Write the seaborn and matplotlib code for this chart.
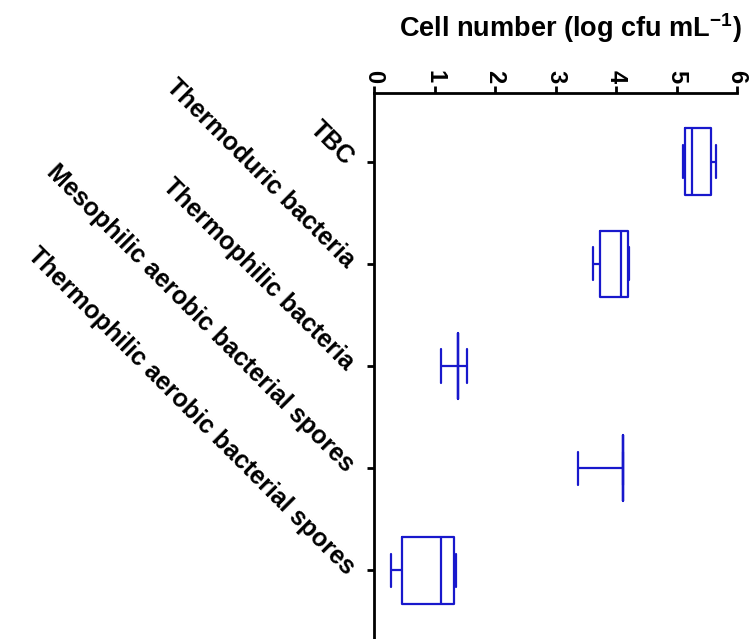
import matplotlib
matplotlib.use("Agg")
import matplotlib.pyplot as plt
import seaborn as sns
import pandas as pd

categories = ["TBC", "Thermoduric bacteria", "Thermophilic bacteria",
              "Mesophilic aerobic bacterial spores",
              "Thermophilic aerobic bacterial spores"]
# five-number summaries: min, Q1, median, Q3, max
tbc = [5.11, 5.14, 5.26, 5.57, 5.66]
thermoduric = [3.62, 3.74, 4.09, 4.20, 4.21]
thermophilic = [1.10, 1.39, 1.39, 1.39, 1.53]
mesophilic_spores = [3.38, 4.11, 4.11, 4.11, 4.11]
thermophilic_spores = [0.28, 0.47, 1.11, 1.32, 1.35]
x_ticks = [0, 1, 2, 3, 4, 5, 6]

series = [tbc, thermoduric, thermophilic, mesophilic_spores, thermophilic_spores]
rows = []
for cat, vals in zip(categories, series):
    for v in vals:
        rows.append({"category": cat, "value": v})
df = pd.DataFrame(rows)

sns.set_theme(style="ticks")
plt.rcParams["font.family"] = ["Liberation Sans", "DejaVu Sans"]
plt.rcParams["font.weight"] = "bold"
plt.rcParams["mathtext.fontset"] = "custom"
plt.rcParams["mathtext.rm"] = "Liberation Sans:bold"
plt.rcParams["mathtext.bf"] = "Liberation Sans:bold"
plt.rcParams["text.color"] = "black"
plt.rcParams["xtick.color"] = "black"
plt.rcParams["ytick.color"] = "black"
plt.rcParams["xtick.labelcolor"] = "black"
plt.rcParams["ytick.labelcolor"] = "black"
plt.rcParams["axes.labelcolor"] = "black"

fig = plt.figure(figsize=(7.56, 6.39), dpi=100)
ax = fig.add_axes([374 / 756, 0.0, (737 - 374) / 756, (639 - 93) / 639])

blue = "#1818cc"
sns.boxplot(data=df, x="value", y="category", order=categories, orient="h",
            whis=(0, 100), width=0.65, fill=False, color=blue, linecolor=blue,
            linewidth=1.6, ax=ax)

ax.set_xlim(0, 6)
ax.set_ylim(4.67, -0.67)
ax.set_xticks(x_ticks)
ax.xaxis.tick_top()
ax.xaxis.set_label_position("top")
for s in ["right", "bottom"]:
    ax.spines[s].set_visible(False)
for s in ["top", "left"]:
    ax.spines[s].set_linewidth(2.0)
    ax.spines[s].set_color("black")
ax.tick_params(axis="both", direction="out", length=5, width=2,
               color="black", labelcolor="black")
ax.tick_params(axis="x", labelsize=17, pad=2)
ax.tick_params(axis="y", labelsize=18, pad=12)
for lab in ax.get_xticklabels():
    lab.set_rotation(-90)
    lab.set_fontweight("bold")
    lab.set_ha("center")
    lab.set_va("bottom")
for lab in ax.get_yticklabels():
    lab.set_rotation(-45)
    lab.set_rotation_mode("anchor")
    lab.set_ha("right")
    lab.set_va("center")
    lab.set_fontweight("bold")

ax.set_ylabel("")
ax.set_xlabel(r"Cell number (log cfu mL$^{\mathbf{-1}}$)", fontsize=19.5,
              fontweight="bold", color="black")
ax.xaxis.set_label_coords(0.54, 1.0 + 56 / 546)

fig.savefig("out.png", dpi=100)
